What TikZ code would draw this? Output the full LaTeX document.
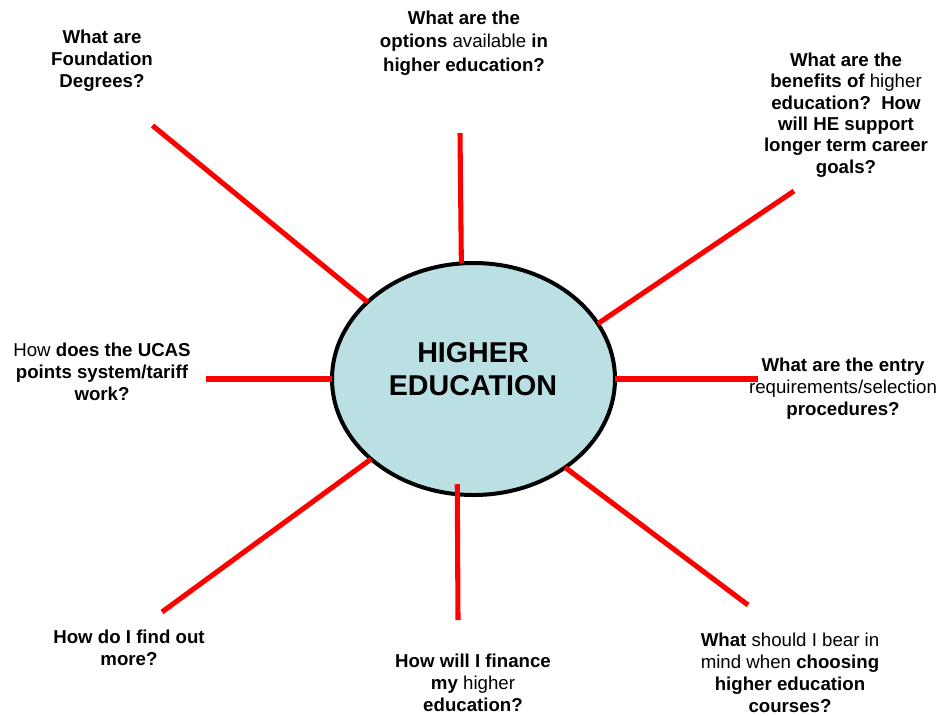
\documentclass[tikz,border=0pt]{standalone}
\usepackage{fontspec}
\setmainfont{Liberation Sans}
\usetikzlibrary{shapes.geometric}
\definecolor{hefill}{RGB}{187,224,227}
\definecolor{spokered}{RGB}{255,0,0}
\newcommand{\md}[1]{{\mdseries #1}}
\begin{document}
\begin{tikzpicture}[x=0.75pt,y=-0.75pt,
  hub/.style={ellipse, draw=black, line width=3pt, fill=hefill,
    minimum width=212.25pt, minimum height=174pt, inner sep=0pt, outer sep=0pt},
  hubtext/.style={font=\fontsize{21.5}{24.8}\selectfont\bfseries, align=center, inner sep=0pt},
  question/.style={font=\fontsize{14}{16.5}\selectfont\bfseries, align=center, inner sep=0pt, text=black},
  spoke/.style={draw=spokered, line width=3.8pt}]
\useasboundingbox (0,0) rectangle (942,715);
\node[hub] (he) at (473.5,379) {};
\node[hubtext] (het) at (473,369) {HIGHER\\EDUCATION};

\node[question] (qf) at (102,60.5) {What are\\Foundation\\Degrees?};
\node[question, font=\fontsize{14}{17.6}\selectfont\bfseries] (qo) at (464,43) {What are the\\options \md{available} in\\higher education?};
\node[question, font=\fontsize{14}{16.1}\selectfont\bfseries] (qb) at (846,115) {What are the\\benefits of \md{higher}\\education?\ \ How\\will HE support\\longer term career\\goals?};
\node[question] (qe) at (843,389) {What are the entry\\\md{requirements/selection}\\procedures?};
\node[question] (qu) at (102,372) {\md{How} does the UCAS\\points system/tariff\\work?};
\node[question] (qm) at (129,648) {How do I find out\\more?};
\node[question] (qn) at (473,683) {How will I finance\\my \md{higher}\\education?};
\node[question] (qc) at (790,673) {What \md{should I bear in}\\\md{mind when} choosing\\higher education\\courses?};

\coordinate (o1) at (152.5,125.5);
\coordinate (o2) at (460,133);
\coordinate (o3) at (794,191);
\coordinate (o4) at (758,379);
\coordinate (o5) at (206,379);
\coordinate (o6) at (162,612);
\coordinate (o7) at (458,620);
\coordinate (o8) at (748,605);

\draw[spoke] (he.144.1) -- (o1);
\draw[spoke] (he.96.6) -- (o2);
\draw[spoke] (he.24.5) -- (o3);
\draw[spoke] (he.east) -- (o4);
\draw[spoke] (he.west) -- (o5);
\draw[spoke] (he.218.5) -- (o6);
\draw[spoke, shorten <=-7.5pt] (he.262.4) -- (o7);
\draw[spoke] (he.316.7) -- (o8);
\end{tikzpicture}
\end{document}
